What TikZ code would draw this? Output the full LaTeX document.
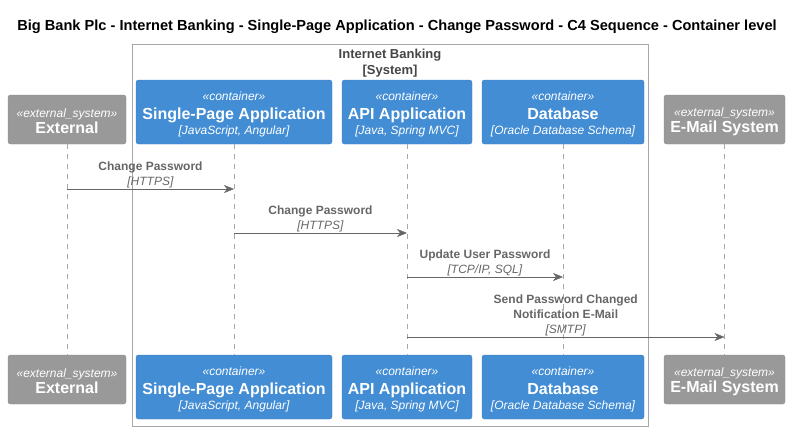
\documentclass[tikz,border=0pt]{standalone}
\usepackage{fontspec}
\setmainfont{Liberation Sans}
\usetikzlibrary{arrows.meta}

\definecolor{cblue}{HTML}{438DD5}
\definecolor{cblueline}{HTML}{3C7FC0}
\definecolor{cgrey}{HTML}{999999}
\definecolor{cgreyline}{HTML}{8A8A8A}
\definecolor{msgcol}{HTML}{666666}
\definecolor{lifecol}{HTML}{A8A8A8}

\newcommand{\cstereo}[1]{{\itshape\fontsize{12}{15}\selectfont\rule{0pt}{13pt}\guillemotleft #1\guillemotright}}
\newcommand{\cname}[1]{{\bfseries\fontsize{16}{15}\selectfont #1}}
\newcommand{\ctech}[1]{{\itshape\fontsize{12}{15}\selectfont [#1]}}

\begin{document}
\begin{tikzpicture}[x=1pt,y=-1pt,
	box/.style={rectangle, rounded corners=2.5pt, inner sep=0pt, outer sep=0pt,
		text=white, align=center, font=\fontsize{12}{15}\selectfont},
	container/.style={box, fill=cblue, draw=cblueline, minimum height=64pt},
	extsys/.style={box, fill=cgrey, draw=cgreyline, minimum height=49pt},
	life/.style={draw=lifecol, dash pattern=on 5pt off 5pt},
	msg/.style={draw=msgcol, -{Stealth[length=10pt,width=8pt,inset=3pt]}},
	msglabel/.style={midway, above=1pt, inner sep=0pt, align=center, text=msgcol,
		font=\fontsize{12}{15}\selectfont}]
	\useasboundingbox (0,0) rectangle (794,431);

	\node[font=\bfseries\fontsize{14.6}{16}\selectfont] (title) at (397,27)
		{Big Bank Plc - Internet Banking - Single-Page Application - Change Password - C4 Sequence - Container level};

	% system boundary
	\node[draw=lifecol, minimum width=516pt, minimum height=382pt, inner sep=0pt] (ib) at (390,235) {};
	\node[below=5pt, inner sep=0pt, align=center, text=black!73, font=\bfseries\fontsize{13}{16}\selectfont]
		(iblabel) at (ib.north) {Internet Banking\\{}[System]};

	% participants, top row
	\node[extsys, minimum width=118pt] (ext) at (67,119.5) {\cstereo{external\_system}\\[1pt]\cname{External}};
	\node[container, minimum width=196pt] (spa) at (234,112) {\cstereo{container}\\[4pt]\cname{Single-Page Application}\\\ctech{JavaScript, Angular}};
	\node[container, minimum width=130pt] (api) at (407,112) {\cstereo{container}\\[4pt]\cname{API Application}\\\ctech{Java, Spring MVC}};
	\node[container, minimum width=162pt] (db) at (563,112) {\cstereo{container}\\[4pt]\cname{Database}\\\ctech{Oracle Database Schema}};
	\node[extsys, minimum width=121pt] (mail) at (724.5,119.5) {\cstereo{external\_system}\\[1pt]\cname{E-Mail System}};

	% participants, bottom row
	\node[extsys, minimum width=118pt] (extb) at (67,379.5) {\cstereo{external\_system}\\[1pt]\cname{External}};
	\node[container, minimum width=196pt] (spab) at (234,387) {\cstereo{container}\\[4pt]\cname{Single-Page Application}\\\ctech{JavaScript, Angular}};
	\node[container, minimum width=130pt] (apib) at (407,387) {\cstereo{container}\\[4pt]\cname{API Application}\\\ctech{Java, Spring MVC}};
	\node[container, minimum width=162pt] (dbb) at (563,387) {\cstereo{container}\\[4pt]\cname{Database}\\\ctech{Oracle Database Schema}};
	\node[extsys, minimum width=121pt] (mailb) at (724.5,379.5) {\cstereo{external\_system}\\[1pt]\cname{E-Mail System}};

	% lifelines
	\draw[life] (ext) -- (extb);
	\draw[life] (spa) -- (spab);
	\draw[life] (api) -- (apib);
	\draw[life] (db) -- (dbb);
	\draw[life] (mail) -- (mailb);

	% messages
	\draw[msg] (ext.south |- 0,189) -- (spa.south |- 0,189)
		node[msglabel] {\textbf{Change Password}\\\textit{[HTTPS]}};
	\draw[msg] (spa.south |- 0,233) -- (api.south |- 0,233)
		node[msglabel] {\textbf{Change Password}\\\textit{[HTTPS]}};
	\draw[msg] (api.south |- 0,277) -- (db.south |- 0,277)
		node[msglabel] {\textbf{Update User Password}\\\textit{[TCP/IP, SQL]}};
	\draw[msg] (api.south |- 0,337) -- (mail.south |- 0,337)
		node[msglabel] {\textbf{Send Password Changed}\\\textbf{Notification E-Mail}\\\textit{[SMTP]}};
\end{tikzpicture}
\end{document}
